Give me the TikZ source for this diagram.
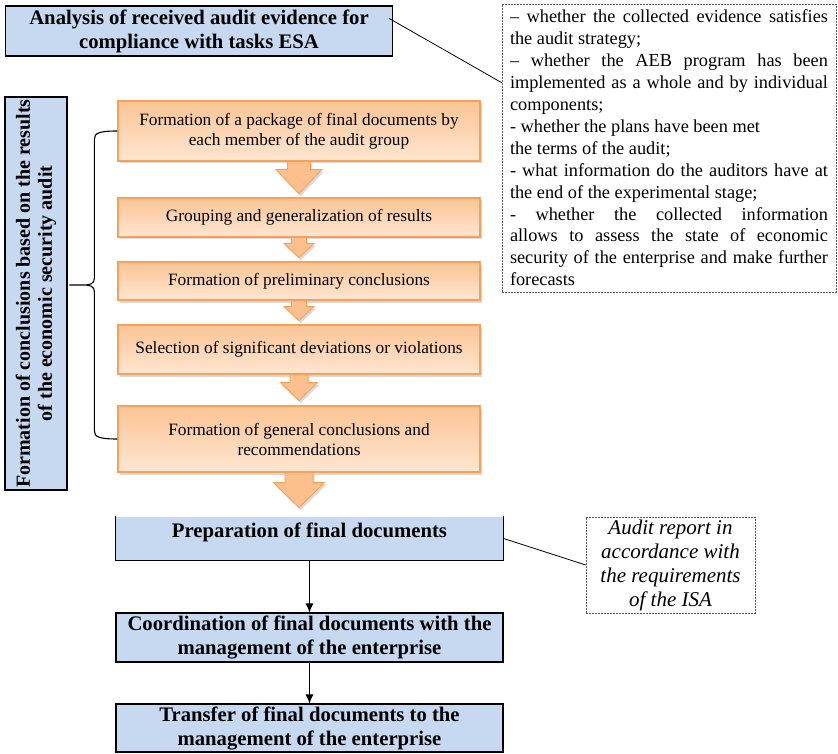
\documentclass[tikz,border=0pt]{standalone}
\usepackage{fontspec}
\setmainfont{Liberation Serif}
\usetikzlibrary{arrows.meta,arrows,shadows,calc}
\definecolor{stageblue}{RGB}{198,217,241}
\definecolor{phaseline}{RGB}{247,160,88}
\definecolor{phasetop}{RGB}{252,196,148}
\definecolor{phasebot}{RGB}{254,230,210}
\definecolor{flowfill}{RGB}{253,192,140}

\begin{document}
\begin{tikzpicture}[x=1pt,y=-1pt]

\tikzset{stage/.style = {shape=rectangle,draw=black,line width=1.2pt,fill=stageblue,inner sep=0pt,
  align=center,font=\fontsize{20.7}{24}\selectfont\bfseries,minimum width=387pt}}
\tikzset{phase/.style = {shape=rectangle,draw=phaseline,line width=1.2pt,top color=phasetop,bottom color=phasebot,
  drop shadow={opacity=0.3,shadow xshift=2pt,shadow yshift=-2.5pt},inner sep=0pt,minimum width=362pt,
  align=center,font=\fontsize{17.3}{20}\selectfont}}
\tikzset{flow/.style = {draw=phaseline,line width=0.8pt,fill=flowfill,line join=miter,
  drop shadow={opacity=0.3,shadow xshift=1.5pt,shadow yshift=-2.5pt}}}
\tikzset{note/.style = {shape=rectangle,draw=gray!70!black,line width=0.6pt,dash pattern=on 2pt off 1pt}}
\tikzset{edge/.style = {->,> = {Latex[length=9pt,width=8pt]},line width=0.8pt}}
\tikzset{link/.style = {line width=0.8pt}}

\useasboundingbox (0,0) rectangle (838,754);

% blue stages
\node[stage,minimum height=50pt] (esa) at (199,31) {Analysis of received audit evidence for\\compliance with tasks ESA};
\node[stage,rotate=90,minimum width=393pt,minimum height=62pt,font=\fontsize{20}{22}\selectfont\bfseries] (concl) at (36,293.5)
  {Formation of conclusions based on the results\\of the economic security audit};

% checklist
\node[note,text width=318pt,inner xsep=8pt,inner ysep=3pt,minimum height=288pt,align=justify,
  font=\fontsize{18.3}{21.9}\selectfont] (crit) at (669,148)
  {– whether the collected evidence satisfies\linebreak
   the audit strategy;\\
   – whether the AEB program has been\linebreak
   implemented as a whole and by individual\linebreak
   components;\\
   - whether the plans have been met\\
   the terms of the audit;\\
   - what information do the auditors have at\linebreak
   the end of the experimental stage;\\
   - whether the collected information\linebreak
   allows to assess the state of economic\linebreak
   security of the enterprise and make further\linebreak
   forecasts};

% orange steps
\node[phase,minimum height=60pt] (f1) at (299,131) {Formation of a package of final documents by\\each member of the audit group};
\node[phase,minimum height=39pt] (f2) at (299,217.5) {Grouping and generalization of results};
\node[phase,minimum height=38pt] (f3) at (299,281) {Formation of preliminary conclusions};
\node[phase,minimum height=49pt] (f4) at (299,349.5) {Selection of significant deviations or violations};
\node[phase,minimum height=66pt] (f5) at (299,439) {Formation of general conclusions and\\recommendations};

\filldraw[flow] (f1.south) ++(-11.5,0) -- ++(0,8) -- ++(-11.5,0) -- ++(23,24) -- ++(23,-24) -- ++(-11.5,0) -- ++(0,-8) -- cycle;
\filldraw[flow] (f2.south) ++(-7.5,0) -- ++(0,6) -- ++(-7.5,0) -- ++(15,14) -- ++(15,-14) -- ++(-7.5,0) -- ++(0,-6) -- cycle;
\filldraw[flow] (f3.south) ++(-7.5,0) -- ++(0,6) -- ++(-7.5,0) -- ++(15,14) -- ++(15,-14) -- ++(-7.5,0) -- ++(0,-6) -- cycle;
\filldraw[flow] (f4.south) ++(-9,0) -- ++(0,8) -- ++(-9.5,0) -- ++(18.5,18) -- ++(18.5,-18) -- ++(-9.5,0) -- ++(0,-8) -- cycle;
\filldraw[flow] (f5.south) ++(-14,0) -- ++(0,10) -- ++(-11.5,0) -- ++(25.5,25) -- ++(25.5,-25) -- ++(-11.5,0) -- ++(0,-10) -- cycle;

% brace
\path (f1.west) ++(-23,0) coordinate (b1);
\path (f5.west) ++(-23,0) coordinate (b2);
\coordinate (bm) at ($(b1)!0.5!(b2)$);
\coordinate (btip) at ($(bm)+(-25,0)$);
\draw[link,line width=1.1pt] (f1.west) .. controls +(-18,0) and +(0,-6) .. ($(b1)+(0,8)$) -- ($(bm)+(0,-7)$)
  .. controls +(0,6) and +(8,0) .. ($(bm)+(-12,0)$) -- (btip) -- ($(bm)+(-12,0)$)
  .. controls +(8,0) and +(0,-6) .. ($(bm)+(0,7)$) -- ($(b2)+(0,-8)$) .. controls +(0,6) and +(-18,0) .. (f5.west);

% final stages
\node[stage,draw=none,minimum height=43pt,text height=17pt,text depth=20pt] (prep) at (309.5,538.5) {Preparation of final documents};
\draw[line width=1.2pt] (prep.north west) |- (prep.south east) -- (prep.north east);
\node[stage,minimum height=49pt] (coord) at (309.5,637.5) {Coordination of final documents with the\\management of the enterprise};
\node[stage,minimum height=48pt] (trans) at (309.5,728) {Transfer of final documents to the\\management of the enterprise};

\node[note,minimum width=169pt,minimum height=96pt,align=center,inner sep=0pt,
  font=\fontsize{21}{24}\selectfont\itshape] (isa) at (670.5,565) {Audit report in\\accordance with\\the requirements\\of the ISA};

\draw[edge] (prep.south) -- (coord.north);
\draw[edge] (coord.south) -- (trans.north);
\draw[link] ([xshift=-4pt,yshift=-13pt]esa.north east) -- ([yshift=-79pt]crit.north west);
\draw[link] (prep.east) -- (isa.west);

\end{tikzpicture}
\end{document}
